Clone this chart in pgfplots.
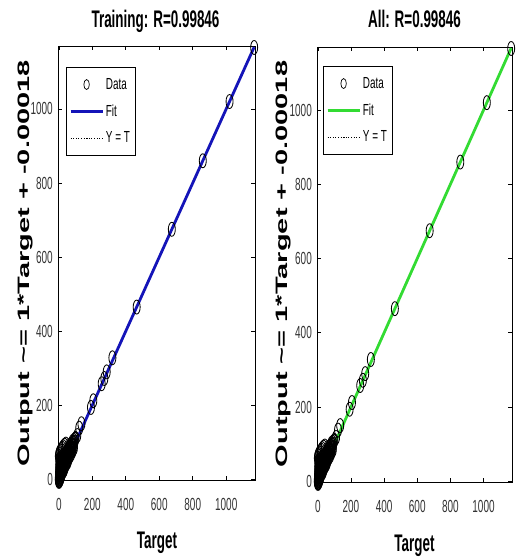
\documentclass[border=0pt]{standalone}
\usepackage{fontspec}
\setmainfont{Liberation Sans}
\usepackage{pgfplots}
\usepackage{pgfplotstable}
\pgfplotsset{compat=1.18}
\definecolor{fitblue}{rgb}{0.08,0.08,0.72}
\definecolor{fitgreen}{rgb}{0.2,0.86,0.2}
\pgfplotstableread{
t o
0 0
0 5
1 10
1 18
2 25
2 33
3 40
3 48
4 55
0 -3
1 2
2 6
3 12
4 3
5 8
5 15
6 20
6 28
7 35
8 42
8 50
9 58
10 12
10 22
11 30
12 38
13 45
14 52
15 60
15 18
16 25
18 32
19 40
20 48
21 55
22 62
24 28
25 35
26 42
28 50
29 57
30 65
32 40
33 47
35 55
36 62
38 70
40 48
42 55
43 62
45 70
47 76
48 55
50 62
52 70
54 78
56 84
58 65
60 72
62 80
64 86
66 92
68 75
70 82
72 88
74 95
76 84
78 90
80 97
82 102
85 92
88 98
90 105
93 100
96 108
100 110
6 6
12 12
20 20
30 30
40 40
50 50
60 60
70 70
80 80
90 90
1 -6
3 -4
6 -2
9 2
14 8
18 14
24 20
30 24
36 32
44 40
52 46
58 54
66 62
74 68
82 76
90 84
0 62
2 68
5 72
9 76
14 80
20 84
26 88
34 92
42 95
110 118
122 138
135 150
192 194
206 212
256 258
272 272
286 290
320 328
465 465
675 675
860 860
1020 1020
1167 1166
}\datatab
\pgfplotsset{
  regstyle/.style={
    scale only axis, xmin=-5, xmax=1172, ymin=-2, ymax=1170, clip=false,
    xtick={0,200,...,1000}, ytick={0,200,...,1000},
    scaled ticks=false,
    tick align=inside, major tick length=4pt,
    every tick/.style={black, line width=0.6pt},
    axis line style={black, line width=0.7pt},
    /pgf/number format/assume math mode=true,
    /pgf/number format/1000 sep={},
    xticklabel={\scalebox{0.57}[1]{\pgfmathprintnumber{\tick}}},
    yticklabel={\scalebox{0.57}[1]{\pgfmathprintnumber{\tick}}},
    tick label style={font=\fontsize{17.5}{17.5}\selectfont, text=black!80},
    xticklabel style={anchor=base, yshift=-31pt, inner sep=0pt},
    yticklabel style={anchor=east, xshift=-5pt, inner sep=0pt},
    legend image code/.code={\draw[mark repeat=2,mark phase=2,##1] plot coordinates {(0pt,0pt) (16pt,0pt) (32pt,0pt)};},
    legend cell align=left,
    legend style={at={(axis description cs:0,1)}, anchor=north west,
      draw=black, line width=0.6pt, font=\fontsize{16}{16}\selectfont,
      row sep=8pt, inner xsep=3pt, inner ysep=8pt,
      nodes={inner xsep=2pt, inner ysep=3pt}},
  },
  datamarks/.style={only marks, mark=o, mark size=7pt,
    mark options={xscale=0.5, line width=0.85pt, black}},
}
\newcommand{\sx}[1]{\scalebox{0.56}[1]{#1}}
\newcommand{\lx}[1]{\scalebox{0.62}[1]{#1}}
\begin{document}
\begin{tikzpicture}[x=1pt,y=1pt]
\useasboundingbox (0,0) rectangle (517,559);
% left panel
\begin{axis}[regstyle, at={(58pt,79pt)}, anchor=south west, width=197pt, height=434pt,
  legend style={xshift=8pt, yshift=-21pt}]
\addlegendimage{only marks, mark=o, mark size=5pt, mark options={xscale=0.55, line width=0.7pt, black}}
\addlegendentry{\lx{Data}}
\addlegendimage{fitblue, line width=2.6pt}
\addlegendentry{\lx{Fit}}
\addlegendimage{black, dotted, line width=0.6pt}
\addlegendentry{\lx{Y = T}}
\addplot[black, dotted, line width=0.6pt, forget plot] coordinates {(-5,-5) (1170,1170)};
\addplot[fitblue, line width=2.8pt, forget plot] coordinates {(-2,-2) (1167,1167)};
\addplot[datamarks, forget plot] table[x=t, y=o] {\datatab};
\end{axis}
% right panel
\begin{axis}[regstyle, at={(317pt,77pt)}, anchor=south west, width=195pt, height=435pt,
  legend style={xshift=6pt, yshift=-19pt}]
\addlegendimage{only marks, mark=o, mark size=5pt, mark options={xscale=0.55, line width=0.7pt, black}}
\addlegendentry{\lx{Data}}
\addlegendimage{fitgreen, line width=2.6pt}
\addlegendentry{\lx{Fit}}
\addlegendimage{black, dotted, line width=0.6pt}
\addlegendentry{\lx{Y = T}}
\addplot[black, dotted, line width=0.6pt, forget plot] coordinates {(-5,-5) (1170,1170)};
\addplot[fitgreen, line width=2.8pt, forget plot] coordinates {(-2,-2) (1167,1167)};
\addplot[datamarks, forget plot] table[x=t, y=o] {\datatab};
\end{axis}
% titles and labels
\node[anchor=base, font=\fontsize{24}{24}\selectfont\bfseries] at (155.5,531) {\sx{Training: R=0.99846}};
\node[anchor=base, font=\fontsize{24}{24}\selectfont\bfseries] at (414.5,531) {\sx{All: R=0.99846}};
\node[anchor=base, font=\fontsize{24}{24}\selectfont\bfseries] at (157,10) {\sx{Target}};
\node[anchor=base, font=\fontsize{24}{24}\selectfont\bfseries] at (414.5,8) {\sx{Target}};
\node[anchor=base, rotate=90, font=\fontsize{29}{29}\selectfont\bfseries] at (29,295.5) {\scalebox{1}[0.57]{Output \textasciitilde= 1*Target + -0.00018}};
\node[anchor=base, rotate=90, font=\fontsize{29}{29}\selectfont\bfseries] at (287,295) {\scalebox{1}[0.57]{Output \textasciitilde= 1*Target + -0.00018}};
\end{tikzpicture}
\end{document}
